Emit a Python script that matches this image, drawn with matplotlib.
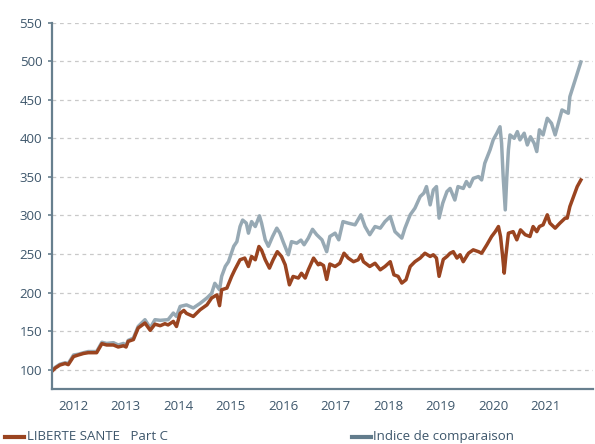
import matplotlib.pyplot as plt
from matplotlib.lines import Line2D

plt.rcParams['font.family'] = ['Open Sans', 'DejaVu Sans']

# LIBERTE SANTE Part C (dates en années décimales)
fonds_x = [2011.60, 2011.66, 2011.75, 2011.85, 2011.91, 2012.01, 2012.10, 2012.20, 2012.29, 2012.45,
           2012.55, 2012.64, 2012.77, 2012.86, 2012.96, 2013.01, 2013.05, 2013.15, 2013.24, 2013.37,
           2013.47, 2013.56, 2013.66, 2013.75, 2013.81, 2013.91, 2013.97, 2014.04, 2014.11, 2014.16,
           2014.29, 2014.42, 2014.55, 2014.64, 2014.74, 2014.79, 2014.83, 2014.93, 2015.02, 2015.08,
           2015.18, 2015.27, 2015.34, 2015.40, 2015.47, 2015.54, 2015.59, 2015.66, 2015.74, 2015.81,
           2015.89, 2015.97, 2016.04, 2016.12, 2016.19, 2016.29, 2016.35, 2016.42, 2016.48, 2016.58,
           2016.67, 2016.70, 2016.77, 2016.83, 2016.89, 2016.99, 2017.08, 2017.16, 2017.24, 2017.34,
           2017.43, 2017.48, 2017.53, 2017.65, 2017.75, 2017.85, 2017.94, 2018.04, 2018.11, 2018.19,
           2018.26, 2018.34, 2018.42, 2018.51, 2018.61, 2018.70, 2018.80, 2018.86, 2018.92, 2018.97,
           2019.05, 2019.12, 2019.18, 2019.24, 2019.31, 2019.37, 2019.43, 2019.53, 2019.62, 2019.72,
           2019.78, 2019.88, 2019.97, 2020.04, 2020.10, 2020.14, 2020.18, 2020.21, 2020.24, 2020.29,
           2020.38, 2020.45, 2020.52, 2020.61, 2020.70, 2020.76, 2020.83, 2020.88, 2020.95, 2021.03,
           2021.08, 2021.18, 2021.27, 2021.37, 2021.41, 2021.46, 2021.53, 2021.60, 2021.67]
fonds_y = [98, 102, 106, 108, 106.5, 117, 119, 121, 122, 122,
           133.7, 132, 132, 129.4, 131, 129.4, 136.7, 139, 154, 160.5,
           151, 159, 157, 159.6, 158, 162.6, 156, 173, 176.8, 173,
           169, 177.7, 184, 193, 197, 183, 203.6, 205.8, 220.9, 229.5,
           242.5, 244.7, 233.8, 246.8, 242.5, 259.7, 255, 242.5, 231.7, 242.5,
           253, 246.8, 236, 210, 220.9, 218.8, 225, 218.8, 229.5, 244.7,
           236, 238, 235, 217, 237, 233.8, 238, 251, 244.7, 240,
           242.5, 249, 240, 233.8, 238, 229.5, 233.8, 240, 223, 221,
           212.3, 216.6, 233.8, 240, 244.7, 251, 246.8, 249, 244.7, 221,
           243, 246.8, 251, 253, 244.7, 249, 240, 251, 255.4, 253,
           251, 262, 272.7, 279, 285.6, 272.7, 246.8, 225.2, 246.8, 277,
           279, 268.4, 281.3, 275, 272.7, 285.6, 279, 285.6, 287.8, 300.8,
           290, 283.5, 290, 296.5, 296.5, 311.5, 324.5, 337.4, 346]

# Indice de comparaison
indice_x = [2011.60, 2011.66, 2011.75, 2011.85, 2011.91, 2012.01, 2012.10, 2012.20, 2012.29, 2012.45,
            2012.55, 2012.64, 2012.77, 2012.86, 2012.96, 2013.01, 2013.05, 2013.15, 2013.24, 2013.37,
            2013.47, 2013.56, 2013.66, 2013.81, 2013.91, 2013.97, 2014.04, 2014.16, 2014.29, 2014.42,
            2014.55, 2014.64, 2014.70, 2014.79, 2014.83, 2014.90, 2014.96, 2015.06, 2015.12, 2015.18,
            2015.23, 2015.30, 2015.34, 2015.40, 2015.47, 2015.55, 2015.59, 2015.66, 2015.72, 2015.80,
            2015.88, 2015.94, 2016.00, 2016.10, 2016.16, 2016.26, 2016.34, 2016.40, 2016.48, 2016.56,
            2016.64, 2016.74, 2016.83, 2016.89, 2016.99, 2017.06, 2017.14, 2017.24, 2017.37, 2017.48,
            2017.56, 2017.65, 2017.75, 2017.85, 2017.94, 2018.04, 2018.13, 2018.26, 2018.32, 2018.42,
            2018.51, 2018.61, 2018.68, 2018.73, 2018.80, 2018.86, 2018.92, 2018.97, 2019.04, 2019.12,
            2019.18, 2019.27, 2019.33, 2019.43, 2019.49, 2019.55, 2019.62, 2019.72, 2019.78, 2019.84,
            2019.94, 2020.00, 2020.07, 2020.13, 2020.16, 2020.19, 2020.23, 2020.26, 2020.29, 2020.32,
            2020.40, 2020.46, 2020.51, 2020.59, 2020.65, 2020.71, 2020.78, 2020.83, 2020.88, 2020.95,
            2021.03, 2021.11, 2021.18, 2021.24, 2021.31, 2021.37, 2021.43, 2021.46, 2021.53, 2021.59,
            2021.67]
indice_y = [98.5, 103, 107, 109, 108, 119, 120, 122, 123.5, 123.5,
            135.5, 134, 135, 132, 134, 131, 138, 141, 156, 164.8,
            154, 164.8, 164, 164.8, 173.4, 169, 182, 184, 180, 186,
            193, 199, 212, 203.6, 221, 234, 240, 260, 266, 285.6,
            294, 290, 277, 292, 285.6, 299.5, 290, 268.4, 260, 272.7,
            283.5, 277, 266, 249, 266, 264, 268, 262, 270.6, 282,
            275, 268.4, 253, 272.7, 277, 268.4, 292, 290, 287.8, 300.8,
            285.6, 275, 285.6, 283.5, 292, 298.6, 279, 270.6, 283.5, 300.8,
            309.4, 324.5, 329, 337.4, 313.7, 333, 337.4, 296.5, 316, 331,
            335, 320, 337.4, 335, 344, 337.4, 348, 350.4, 346, 367.7,
            385, 398, 406.6, 415, 393.6, 350.4, 307.2, 350.4, 385, 404.4,
            400, 408.7, 398, 406.6, 391.4, 402, 393.6, 382.8, 411, 404.4,
            426, 419.5, 404.4, 419.5, 436.8, 434.6, 432.5, 454, 469, 482,
            499]

annees = [2012, 2013, 2014, 2015, 2016, 2017, 2018, 2019, 2020, 2021]
yticks = [100, 150, 200, 250, 300, 350, 400, 450, 500, 550]

orange = '#9A4420'
gris = '#97A9B4'
gris_legende = '#627C8C'
axe = '#677F8E'
texte = '#3D566B'

fig = plt.figure(figsize=(5.95, 4.44), dpi=100)
ax = fig.add_axes([0.0874, 0.124, 0.9092, 0.825])

ax.plot(indice_x, indice_y, color=gris, lw=2.5, solid_joinstyle='round')
ax.plot(fonds_x, fonds_y, color=orange, lw=2.5, solid_joinstyle='round')

ax.set_xlim(2011.60, 2021.90)
ax.set_ylim(75, 550)
ax.set_yticks(yticks)
ax.set_xticks(annees)
ax.set_xticklabels([str(a) for a in annees])

ax.yaxis.grid(True, color='#C9C9C9', linestyle=(0, (3, 3)), linewidth=0.9)
ax.set_axisbelow(True)

for s in ['top', 'right']:
    ax.spines[s].set_visible(False)
for s in ['left', 'bottom']:
    ax.spines[s].set_color(axe)
    ax.spines[s].set_linewidth(1.6)

ax.tick_params(axis='y', length=3, width=1.2, color=axe, labelcolor=texte, labelsize=9.5, pad=4)
ax.tick_params(axis='x', length=0, labelcolor=texte, labelsize=9.5, pad=8)

# légende en bas
ly = 1 - 436.5 / 444
fig.add_artist(Line2D([5 / 595, 24 / 595], [ly, ly], color=orange, lw=3))
fig.text(27 / 595, ly, 'LIBERTE SANTE   Part C', color=texte, fontsize=9.5, va='center')
fig.add_artist(Line2D([352 / 595, 371 / 595], [ly, ly], color=gris_legende, lw=3))
fig.text(373 / 595, ly, 'Indice de comparaison', color=texte, fontsize=9.5, va='center')

fig.savefig('out.png', dpi=100)
